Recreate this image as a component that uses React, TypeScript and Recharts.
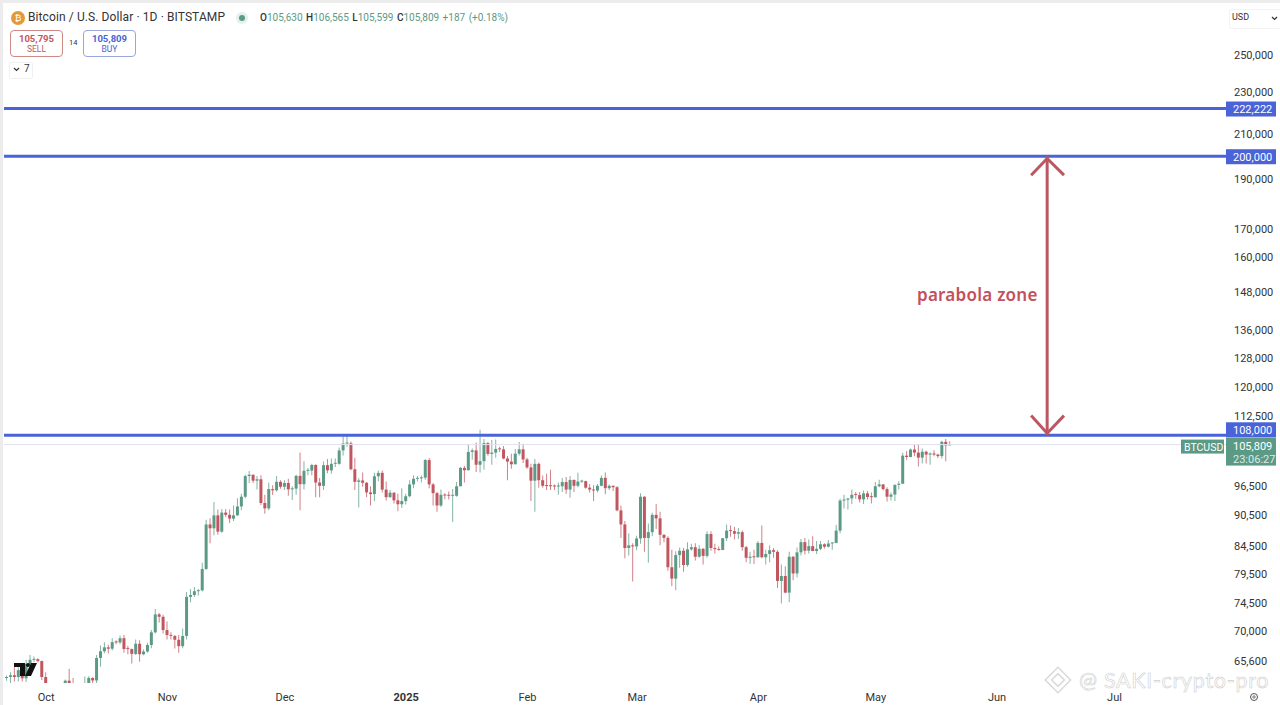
import { Bar, Cell, ComposedChart, ReferenceLine, XAxis, YAxis } from 'recharts';

// daily candles, first one is 21 Sep 2024, last one 20 May 2025
const opens = [
  63200, 63350, 63580, 63330, 64300, 63150, 65180, 65780, 65870, 65600,
  63330, 60800, 60650, 60750, 62080, 62070, 62820, 62220, 62130, 60580,
  60280, 62450, 63200, 62850, 66050, 67040, 67620, 67420, 68400, 68360,
  69000, 67370, 67360, 66650, 68160, 66600, 67000, 67970, 69900, 72720, 72340,
  70250, 69480, 69350, 68760, 67800, 69350, 75600, 75900, 76540, 76680,
  80400, 88700, 87950, 90500, 87300, 91050, 90600, 89850, 90500, 92300,
  94300, 98700, 99000, 97700, 98000, 93000, 91900, 95900, 95650, 97450,
  96400, 97200, 95850, 96000, 98750, 96950, 99850, 99900, 101150, 97300,
  96600, 101100, 99950, 101400, 101400, 104450, 106050, 106100, 100200, 97450,
  97750, 97250, 95200, 94850, 98650, 99400, 95800, 94200, 95150, 93550, 92750,
  93400, 94400, 96900, 98100, 98200, 98350, 102250, 96900, 95050, 92500,
  94700, 94550, 94500, 94500, 96500, 100500, 99980, 104100, 104450, 101200,
  102000, 106150, 103650, 103950, 104800, 104700, 102600, 101900, 101300, 103700, 104700,
  102400, 100600, 97700, 101400, 97800, 96600, 96550, 96500, 96450, 96500,
  97400, 95800, 97850, 96600, 97500, 97600, 96200, 95800, 95600, 96600,
  98300, 96100, 96600, 96300, 91500, 88700, 84200, 84700,
  84500, 86000, 94300, 86100, 87200, 90600, 89900, 86700, 86100, 80700,
  78700, 82900, 83700, 81100, 83950, 84350, 82600, 84050, 82750, 86850,
  84200, 84000, 83850, 86050, 87500, 87400, 86900, 87200, 84350, 82400, 82600,
  82500, 85150, 82500, 83100, 83800, 83500, 78300, 79150, 76300, 82600,
  79600, 83400, 85300, 83700, 84550, 83650, 84050, 84900, 84450, 85050,
  85150, 87500, 93500, 93700, 93950, 94700, 94650, 93750, 95000, 94250,
  94200, 96500, 96900, 95900, 94300, 94750, 96800, 97050, 103250, 102950,
  104650, 103950, 102800, 104150, 103500, 103750, 103500, 103150, 106450, 105630,
];
const highs = [
  63550, 64000, 64700, 64700, 64800, 65800, 66500, 66250, 66000, 65700,
  64000, 62400, 61500, 62500, 62400, 63000, 64500, 63200, 62500, 61400,
  63400, 63450, 63300, 66500, 67900, 68400, 68000, 69000, 68700, 69400,
  69500, 67850, 67450, 68800, 68700, 67300, 68300, 70250, 73600, 72950, 72650,
  71600, 69900, 69450, 69500, 70500, 76400, 76900, 77250, 76900, 81500,
  89600, 89900, 93200, 91700, 91800, 91800, 91700, 92500, 94000, 94900,
  99000, 99800, 99000, 98700, 98900, 94700, 97300, 96700, 98700, 97800,
  97800, 98100, 96500, 99000, 104000, 102000, 100500, 101400, 101300, 98300,
  101900, 102500, 102600, 102600, 105100, 107800, 108300, 106500, 102800, 98200,
  99500, 97400, 96500, 99400, 99900, 99900, 97500, 95700, 95200, 94900, 96100,
  94900, 97800, 98900, 98700, 98800, 102500, 102700, 97200, 95300, 95800,
  95000, 95400, 95900, 97400, 100700, 100900, 105900, 104900, 106300, 109300,
  107100, 106400, 106900, 107000, 105300, 105450, 103200, 103700, 104800, 106400, 106000,
  102750, 101400, 102500, 101700, 98800, 99200, 100100, 96900, 97300, 98300,
  98500, 98700, 98000, 99400, 97900, 97700, 97000, 96700, 97000, 98800,
  99500, 96900, 96650, 96500, 92500, 89400, 87000, 85100,
  86500, 95000, 94400, 88900, 91000, 92800, 91200, 86800, 86400, 83900,
  83600, 84300, 84200, 85300, 85000, 85100, 84700, 84200, 87400, 87400,
  85000, 84500, 86100, 88700, 88500, 88200, 88000, 87500, 84600, 83500, 83900,
  85500, 88500, 83900, 84700, 84200, 83800, 81200, 80900, 83500, 82700,
  84300, 85900, 86100, 85800, 86400, 85500, 85500, 85100, 85700, 85300,
  88600, 93900, 94700, 94000, 95800, 95300, 95300, 95600, 95500, 95200,
  97400, 97900, 97000, 96300, 95200, 96900, 97600, 103900, 104300, 104900,
  105800, 105800, 104900, 104400, 104000, 104500, 103700, 106700, 107100, 106565,
];
const lows = [
  62800, 62400, 62700, 62700, 62700, 62650, 64800, 65450, 65400, 62900,
  60200, 60000, 59900, 60500, 61700, 61800, 62200, 61850, 60350, 58900,
  60100, 62400, 62050, 62450, 64800, 66750, 66700, 67150, 68100, 68100,
  66800, 66600, 65250, 66500, 65500, 66450, 66800, 67500, 69700, 71450, 69700,
  68800, 68800, 67450, 66800, 67500, 68800, 74700, 75550, 75800, 76500,
  80200, 85100, 86600, 86700, 87100, 90100, 89000, 89400, 90400, 91500,
  94000, 97200, 97200, 95800, 92600, 90800, 91500, 94650, 95400, 96000,
  95700, 94500, 93600, 94700, 91500, 95800, 98900, 98900, 94200, 94200,
  95700, 99300, 99200, 100700, 101200, 103300, 105300, 100000, 95700, 92100,
  96400, 94200, 92500, 93400, 97600, 95200, 93500, 94100, 92900, 91300, 92000,
  92700, 94200, 96100, 97500, 97300, 97900, 96100, 92500, 91200, 92200,
  93800, 93700, 89200, 94300, 96500, 97300, 99900, 102300, 99600, 99500,
  100100, 103300, 101200, 102750, 104100, 102450, 97800, 100300, 101300, 103300, 101600,
  100300, 93400, 91200, 96200, 96200, 95700, 95700, 95700, 94700, 95300,
  94900, 94100, 95300, 96300, 97200, 96000, 95200, 93400, 95200, 96500,
  94800, 95700, 95500, 91300, 86100, 82300, 82800, 78200,
  83800, 85000, 83500, 81500, 86400, 87800, 84700, 85300, 80100, 77400,
  76700, 80600, 79900, 80800, 83700, 81900, 82400, 81200, 82400, 83700,
  83200, 83700, 83800, 85500, 86300, 85800, 85900, 83700, 81600, 81300, 81300,
  82400, 82300, 81200, 81600, 82400, 77100, 74500, 76200, 74700, 78400,
  78900, 82800, 83000, 83200, 83600, 83100, 83800, 84100, 84300, 83900,
  85100, 87000, 91900, 91700, 92800, 93900, 93100, 92800, 93700, 92900,
  94100, 96300, 95600, 93300, 93500, 93400, 95800, 97000, 102300, 102900,
  103100, 100800, 101500, 101500, 101200, 103100, 102700, 102600, 102000, 105599,
];
const closes = [
  63350, 63580, 63330, 64300, 63150, 65180, 65780, 65870, 65600, 63330,
  60800, 60650, 60750, 62080, 62070, 62820, 62220, 62130, 60580, 60280,
  62450, 63200, 62850, 66050, 67040, 67620, 67420, 68400, 68360, 69000,
  67370, 67360, 66650, 68160, 66600, 67000, 67970, 69900, 72720, 72340, 70250,
  69480, 69350, 68760, 67800, 69350, 75600, 75900, 76540, 76680, 80400,
  88700, 87950, 90500, 87300, 91050, 90600, 89850, 90500, 92300, 94300,
  98700, 99000, 97700, 98000, 93000, 91900, 95900, 95650, 97450, 96400,
  97200, 95850, 96000, 98750, 96950, 99850, 99900, 101150, 97300, 96600,
  101100, 99950, 101400, 101400, 104450, 106050, 106100, 100200, 97450, 97750,
  97250, 95200, 94850, 98650, 99400, 95800, 94200, 95150, 93550, 92750, 93400,
  94400, 96900, 98100, 98200, 98350, 102250, 96900, 95050, 92500, 94700,
  94550, 94500, 94500, 96500, 100500, 99980, 104100, 104450, 101200, 102000,
  106150, 103650, 103950, 104800, 104700, 102600, 101900, 101300, 103700, 104700, 102400,
  100600, 97700, 101400, 97800, 96600, 96550, 96500, 96450, 96500, 97400,
  95800, 97850, 96600, 97500, 97600, 96200, 95800, 95600, 96600, 98300,
  96100, 96600, 96300, 91500, 88700, 84200, 84700, 84500,
  86000, 94300, 86100, 87200, 90600, 89900, 86700, 86100, 80700, 78700,
  82900, 83700, 81100, 83950, 84350, 82600, 84050, 82750, 86850, 84200,
  84000, 83850, 86050, 87500, 87400, 86900, 87200, 84350, 82400, 82600, 82500,
  85150, 82500, 83100, 83800, 83500, 78300, 79150, 76300, 82600, 79600,
  83400, 85300, 83700, 84550, 83650, 84050, 84900, 84450, 85050, 85150,
  87500, 93500, 93700, 93950, 94700, 94650, 93750, 95000, 94250, 94200,
  96500, 96900, 95900, 94300, 94750, 96800, 97050, 103250, 102950, 104650,
  103950, 102800, 104150, 103500, 103750, 103500, 103150, 106450, 105630, 105809,
];

const monthIndexes = [10, 41, 71, 102, 133, 161, 192, 222, 253, 283];
const monthLabels = ['Oct', 'Nov', 'Dec', '2025', 'Feb', 'Mar', 'Apr', 'May', 'Jun', 'Jul'];
const priceTicks = [
  250000, 230000, 210000, 190000, 170000, 160000, 148000, 136000, 128000, 120000,
  112500, 96500, 90500, 84500, 79500, 74500, 70000, 65600,
];
const levels = [222222, 200000, 108000];
const lastPrice = 105809;

const UP = '#5b9a86';
const DOWN = '#c2565f';
const BLUE = '#4a63d8';
const ARROW = '#bb5762';
const FONT = 'Roboto, sans-serif';

const candles = opens.map((open, i) => ({
  day: i,
  wick: [lows[i], highs[i]],
  body: [Math.min(open, closes[i]), Math.max(open, closes[i])],
  up: closes[i] >= open,
}));

const PriceTick = ({ x, y, payload }: any) => (
  <text x={x} y={y + 3.5} fontSize={11} fontFamily={FONT} fill="#333">
    {payload.value.toLocaleString('en-US')}
  </text>
);

const MonthTick = ({ x, y, payload }: any) => {
  const label = monthLabels[monthIndexes.indexOf(payload.value)];
  return (
    <text
      x={x}
      y={y + 10}
      textAnchor="middle"
      fontSize={11}
      fontFamily={FONT}
      fontWeight={label === '2025' ? 700 : 400}
      fill="#333"
    >
      {label}
    </text>
  );
};

const levelLabel = (value: number) => ({ viewBox }: any) => {
  // the 108,000 tag sits a little above its line, the price tag takes that spot
  const top = value === 108000 ? viewBox.y - 13 : viewBox.y - 7;
  return (
    <g>
      <rect x={1226} y={top} width={50} height={15} fill={BLUE} />
      <text x={1233} y={top + 11.5} fontSize={11} fontFamily={FONT} fill="#fff">
        {value.toLocaleString('en-US')}
      </text>
    </g>
  );
};

const lastPriceLabel = ({ viewBox }: any) => (
  <g fontFamily={FONT} fontSize={11}>
    <rect x={1181} y={viewBox.y - 5} width={43} height={14} fill={UP} />
    <text x={1184} y={viewBox.y + 6} fontSize={10.5} fill="#fff">BTCUSD</text>
    <rect x={1226} y={viewBox.y - 7} width={50} height={28} fill={UP} />
    <text x={1233} y={viewBox.y + 5} fill="#fff">105,809</text>
    <text x={1233} y={viewBox.y + 18} fill="#dcebe5">23:06:27</text>
  </g>
);

const arrowParts = [
  [{ x: 265.8, y: 200000 }, { x: 265.8, y: 108000 }],
  [{ x: 261.7, y: 191800 }, { x: 265.8, y: 199000 }],
  [{ x: 270.1, y: 191800 }, { x: 265.8, y: 199000 }],
  [{ x: 261.7, y: 112800 }, { x: 265.8, y: 108500 }],
  [{ x: 270.1, y: 112800 }, { x: 265.8, y: 108500 }],
];

const label = (left: number, top: number, style: any = {}) => ({
  position: 'absolute' as const,
  left,
  top,
  whiteSpace: 'nowrap' as const,
  fontFamily: FONT,
  ...style,
});

export default function App() {
  return (
    <div style={{ position: 'fixed', left: 0, top: 0, width: 1280, height: 705, background: '#fff', overflow: 'hidden' }}>
      <ComposedChart
        width={1280}
        height={705}
        data={candles}
        barGap={0}
        margin={{ top: 4, right: 0, bottom: 0, left: 4 }}
      >
        <XAxis
          xAxisId="body"
          dataKey="day"
          type="number"
          domain={[-0.77, 311.5]}
          allowDataOverflow
          ticks={monthIndexes}
          tick={<MonthTick />}
          tickLine={false}
          axisLine={false}
          interval={0}
          height={22}
        />
        <XAxis xAxisId="wick" dataKey="day" type="number" domain={[-0.77, 311.5]} allowDataOverflow hide />
        <YAxis
          orientation="right"
          scale="log"
          domain={[62500, 279900]}
          allowDataOverflow
          ticks={priceTicks}
          tick={<PriceTick />}
          tickLine={false}
          axisLine={false}
          interval={0}
          width={54}
        />
        <ReferenceLine
          xAxisId="body"
          y={lastPrice}
          stroke="#dfe3ef"
          strokeWidth={1}
          label={lastPriceLabel}
        />
        <Bar xAxisId="wick" dataKey="wick" barSize={1} isAnimationActive={false}>
          {candles.map((c) => (
            <Cell key={c.day} fill={c.up ? UP : DOWN} fillOpacity={0.75} />
          ))}
        </Bar>
        <Bar xAxisId="body" dataKey="body" barSize={3} minPointSize={1} isAnimationActive={false}>
          {candles.map((c) => (
            <Cell key={c.day} fill={c.up ? UP : DOWN} />
          ))}
        </Bar>
        {levels.map((value) => (
          <ReferenceLine
            key={value}
            xAxisId="body"
            y={value}
            stroke={BLUE}
            strokeWidth={3}
            label={levelLabel(value)}
          />
        ))}
        {arrowParts.map((segment, i) => (
          <ReferenceLine key={i} xAxisId="body" segment={segment} stroke={ARROW} strokeWidth={3} />
        ))}
      </ComposedChart>

      {/* frame of the screenshot */}
      <div style={{ position: 'absolute', left: 0, top: 0, width: 1280, height: 3, background: '#ececec' }} />
      <div style={{ position: 'absolute', left: 0, top: 0, width: 3, height: 705, background: '#ececec' }} />

      {/* legend */}
      <div style={{ position: 'absolute', left: 11, top: 11, width: 14, height: 14, borderRadius: 7, background: '#e2993a', color: '#fff', fontSize: 9, lineHeight: '14px', textAlign: 'center', fontFamily: FONT }}>₿</div>
      <div style={label(28, 10, { fontSize: 12, color: '#333', letterSpacing: 0.1 })}>Bitcoin / U.S. Dollar · 1D · BITSTAMP</div>
      <div style={{ position: 'absolute', left: 236, top: 12, width: 12, height: 12, borderRadius: 6, background: '#e3f0ec' }} />
      <div style={{ position: 'absolute', left: 239, top: 15, width: 6, height: 6, borderRadius: 3, background: UP }} />
      <div style={label(260, 12, { fontSize: 10, color: UP, wordSpacing: 1 })}>
        <span style={{ color: '#333', fontWeight: 500 }}>O</span>105,630 <span style={{ color: '#333', fontWeight: 500 }}>H</span>106,565 <span style={{ color: '#333', fontWeight: 500 }}>L</span>105,599 <span style={{ color: '#333', fontWeight: 500 }}>C</span>105,809 +187 (+0.18%)
      </div>

      {/* sell, buy */}
      <div style={{ position: 'absolute', left: 10, top: 30, width: 51, height: 25, border: '1px solid #cf8a86', borderRadius: 4 }} />
      <div style={label(10, 33, { width: 53, textAlign: 'center', fontSize: 9.5, fontWeight: 700, color: '#c2565f' })}>105,795</div>
      <div style={label(10, 44, { width: 53, textAlign: 'center', fontSize: 8.5, color: '#c2565f' })}>SELL</div>
      <div style={label(69, 38, { fontSize: 7.5, color: '#333' })}>14</div>
      <div style={{ position: 'absolute', left: 83, top: 30, width: 51, height: 25, border: '1px solid #9aa6dc', borderRadius: 4 }} />
      <div style={label(83, 33, { width: 53, textAlign: 'center', fontSize: 9.5, fontWeight: 700, color: BLUE })}>105,809</div>
      <div style={label(83, 44, { width: 53, textAlign: 'center', fontSize: 8.5, color: BLUE })}>BUY</div>
      <div style={{ position: 'absolute', left: 9, top: 62, width: 22, height: 15, border: '1px solid #f0f0f0', borderRadius: 2 }} />
      <div style={label(24, 63, { fontSize: 10, color: '#333' })}>7</div>

      {/* currency */}
      <div style={{ position: 'absolute', left: 1229, top: 9, width: 50, height: 18, border: '1px solid #f3f3f3', borderRadius: 2 }} />
      <div style={label(1232, 12, { fontSize: 9, color: '#333' })}>USD</div>

      {/* annotation */}
      <div style={label(917, 283, { fontFamily: '"Noto Sans", sans-serif', fontSize: 17, fontWeight: 600, color: '#c4505c', letterSpacing: 0.25 })}>parabola zone</div>

      {/* TradingView mark, watermark, small icons */}
      <svg style={{ position: 'absolute', left: 0, top: 0 }} width={1280} height={705}>
        <path d="M14 663h11v13h-5v-9h-6z" fill="#111" />
        <circle cx={28} cy={665} r={2} fill="#111" />
        <path d="M31 663h6l-6 13h-6z" fill="#111" />
        <path d="M14 68l2.5 2.5 2.5-2.5" fill="none" stroke="#333" strokeWidth={1.2} />
        <path d="M1272 17l2.5 2.5 2.5-2.5" fill="none" stroke="#333" strokeWidth={1.2} />
        <g fill="none" stroke="#d9d9d9" strokeWidth={1.5}>
          <rect x={1049} y={671} width={18} height={18} transform="rotate(45 1058 680)" />
          <rect x={1053.5} y={675.5} width={9} height={9} transform="rotate(45 1058 680)" />
        </g>
        <circle cx={1254} cy={697} r={3.5} fill="none" stroke="#555" strokeWidth={1} />
        <circle cx={1254} cy={697} r={1.2} fill="none" stroke="#555" strokeWidth={0.8} />
        <text x={1079} y={688} fontSize={21.5} letterSpacing={0.7} fontFamily="Lato, sans-serif" fill="#fff" stroke="#cfcfcf" strokeWidth={0.6}>@ SAKI-crypto-pro</text>
      </svg>
    </div>
  );
}
